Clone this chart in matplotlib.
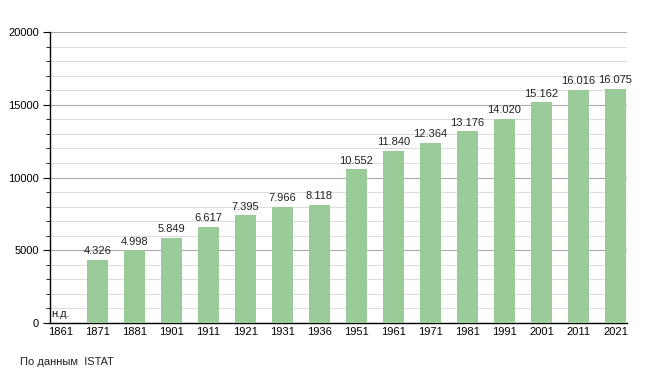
import matplotlib
matplotlib.use("Agg")
import matplotlib.pyplot as plt
from matplotlib.ticker import MultipleLocator

years = ["1861", "1871", "1881", "1901", "1911", "1921", "1931", "1936",
         "1951", "1961", "1971", "1981", "1991", "2001", "2011", "2021"]
population = [None, 4326, 4998, 5849, 6617, 7395, 7966, 8118,
              10552, 11840, 12364, 13176, 14020, 15162, 16016, 16075]
source_text = "По данным  ISTAT"
na_text = "н.д."

plt.rcParams['font.family'] = ['Liberation Sans', 'DejaVu Sans']

fig = plt.figure(figsize=(6.55, 3.73), dpi=100)
ax = fig.add_axes([50/655, 50/373, 577/655, 291/373])

x = list(range(len(years)))
vals = [v if v is not None else 0 for v in population]
ax.bar(x, vals, width=0.57, color='#99cc99', zorder=3)

for xi, v in zip(x, population):
    if v is None:
        ax.text(xi - 0.25, 300, na_text, ha='left', va='bottom', fontsize=8, color='#222222', zorder=4)
    else:
        s = f"{v:,}".replace(",", ".")
        ax.text(xi, v + 250, s, ha='center', va='bottom', fontsize=8, color='#222222', zorder=4)

ax.set_xlim(-0.284, len(years) - 1 + 0.31)
ax.set_ylim(0, 20000)
ax.set_xticks(x)
ax.set_xticklabels(years, fontsize=8)
ax.tick_params(axis='x', length=0, pad=3)
ax.yaxis.set_major_locator(MultipleLocator(5000))
ax.yaxis.set_minor_locator(MultipleLocator(1000))
ax.tick_params(axis='y', which='major', length=5, labelsize=8, direction='out', pad=3)
ax.tick_params(axis='y', which='minor', length=3, direction='out')
ax.grid(axis='y', which='major', color='#aaaaaa', linewidth=0.8, zorder=0)
ax.grid(axis='y', which='minor', color='#dddddd', linewidth=0.8, zorder=0)
for s in ['top', 'right']:
    ax.spines[s].set_visible(False)
ax.spines['left'].set_linewidth(1.0)
ax.spines['bottom'].set_linewidth(1.0)
ax.set_axisbelow(True)

fig.text(20/655, 1 - 362/373, source_text, ha='left', va='center', fontsize=8, color='#222222')

fig.savefig("out.png", dpi=100)
